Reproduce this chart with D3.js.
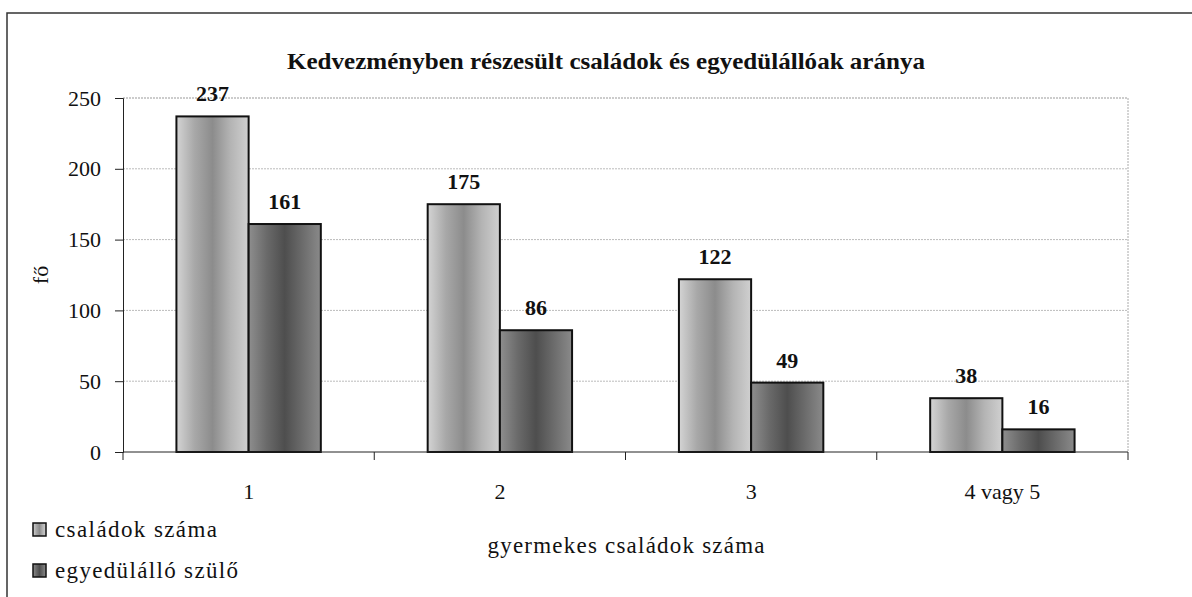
<!DOCTYPE html>
<html>
<head>
<meta charset="utf-8">
<script src="https://cdn.jsdelivr.net/npm/d3@7"></script>
<style>
  body { margin: 0; background: #fff; }
  svg { display: block; font-family: "Liberation Serif", "Times New Roman", serif; }
</style>
</head>
<body>
<svg id="chart" width="1192" height="597"></svg>
<script>
const categories = ['1', '2', '3', '4 vagy 5']
const seriesNames = ['családok száma', 'egyedülálló szülő']
const csaladok = [237, 175, 122, 38]
const egyedulallo = [161, 86, 49, 16]
const yTicks = [0, 50, 100, 150, 200, 250]

const svg = d3.select('#chart')
const width = 1192
const height = 597
const m = { left: 123, right: 1128, top: 98, bottom: 452 }

// gradients for the bars
const defs = svg.append('defs')
const grads = [
    { id: 'g0', stops: ['#d4d4d4', '#a8a8a8', '#8c8c8c', '#b4b4b4', '#d0d0d0'] },
    { id: 'g1', stops: ['#8e8e8e', '#6a6a6a', '#4e4e4e', '#6c6c6c', '#8a8a8a'] }
]
grads.forEach(g => {
    const lg = defs.append('linearGradient').attr('id', g.id)
        .attr('x1', '0%').attr('x2', '100%').attr('y1', '0%').attr('y2', '0%')
    g.stops.forEach((c, i) => lg.append('stop')
        .attr('offset', (i / (g.stops.length - 1) * 100) + '%')
        .attr('stop-color', c))
})

// outer frame
svg.append('path')
    .attr('d', `M7,${height} L7,13 L${width},13`)
    .attr('fill', 'none').attr('stroke', '#333').attr('stroke-width', 1.5)

const x0 = d3.scaleBand().domain(categories).range([m.left, m.right]).paddingInner(0).paddingOuter(0)
const x1 = d3.scaleBand().domain([0, 1]).range([0, x0.bandwidth()]).paddingOuter(0.74).paddingInner(0)
const y = d3.scaleLinear().domain([0, 250]).range([m.bottom, m.top])

// gridlines
svg.append('g').selectAll('line').data(yTicks.filter(d => d > 0)).enter().append('line')
    .attr('x1', m.left).attr('x2', m.right)
    .attr('y1', d => y(d)).attr('y2', d => y(d))
    .attr('stroke', d => d === 250 ? '#999' : '#bbb')
    .attr('stroke-width', 1)
    .attr('stroke-dasharray', '2,1')

// right border of plot area
svg.append('line')
    .attr('x1', m.right).attr('x2', m.right).attr('y1', m.top).attr('y2', m.bottom)
    .attr('stroke', '#aaa').attr('stroke-dasharray', '2,1')

// bars
const data = categories.map((c, i) => ({ cat: c, vals: [csaladok[i], egyedulallo[i]] }))
const groups = svg.append('g').selectAll('g').data(data).enter().append('g')
    .attr('transform', d => `translate(${x0(d.cat)},0)`)

groups.selectAll('rect').data(d => d.vals.map((v, k) => ({ v, k }))).enter().append('rect')
    .attr('x', d => x1(d.k))
    .attr('y', d => y(d.v))
    .attr('width', x1.bandwidth())
    .attr('height', d => y(0) - y(d.v))
    .attr('fill', d => `url(#g${d.k})`)
    .attr('stroke', '#111')
    .attr('stroke-width', 2)

groups.selectAll('text').data(d => d.vals.map((v, k) => ({ v, k }))).enter().append('text')
    .attr('x', d => x1(d.k) + x1.bandwidth() / 2)
    .attr('y', d => y(d.v) - 15)
    .attr('text-anchor', 'middle')
    .attr('font-weight', 'bold')
    .attr('font-size', 22)
    .attr('fill', '#111')
    .text(d => d.v)

// axes
const yAxis = d3.axisLeft(y).tickValues(yTicks).tickSize(8).tickPadding(14)
svg.append('g')
    .attr('transform', `translate(${m.left},0)`)
    .call(yAxis)
    .call(g => g.selectAll('text').attr('font-size', 22).attr('font-family', 'Liberation Serif').attr('fill', '#111'))
    .call(g => g.selectAll('line, path').attr('stroke', '#222'))

const xAxisG = svg.append('g').attr('transform', `translate(0,${m.bottom})`)
xAxisG.append('line').attr('x1', m.left).attr('x2', m.right).attr('stroke', '#222')
xAxisG.selectAll('.tk').data(categories.concat(['end'])).enter().append('line')
    .attr('x1', (d, i) => i < categories.length ? x0(d) : m.right)
    .attr('x2', (d, i) => i < categories.length ? x0(d) : m.right)
    .attr('y1', 0).attr('y2', 8).attr('stroke', '#222')
xAxisG.selectAll('text').data(categories).enter().append('text')
    .attr('x', d => x0(d) + x0.bandwidth() / 2)
    .attr('y', 47)
    .attr('text-anchor', 'middle')
    .attr('font-size', 22)
    .attr('fill', '#111')
    .text(d => d)

// title
svg.append('text')
    .attr('x', 606).attr('y', 69)
    .attr('text-anchor', 'middle')
    .attr('font-weight', 'bold')
    .attr('font-size', 23)
    .attr('textLength', 638)
    .attr('lengthAdjust', 'spacingAndGlyphs')
    .attr('fill', '#111')
    .text('Kedvezményben részesült családok és egyedülállóak aránya')

// axis titles
svg.append('text')
    .attr('transform', 'translate(48,275) rotate(-90)')
    .attr('text-anchor', 'middle')
    .attr('font-size', 22)
    .attr('fill', '#111')
    .text('fő')

svg.append('text')
    .attr('x', 626).attr('y', 553)
    .attr('text-anchor', 'middle')
    .attr('font-size', 23)
    .attr('textLength', 277)
    .attr('fill', '#111')
    .text('gyermekes családok száma')

// legend
const legLen = [162, 183]
const leg = svg.append('g').selectAll('g').data(seriesNames).enter().append('g')
    .attr('transform', (d, i) => `translate(33,${523 + i * 41})`)
leg.append('rect').attr('width', 13).attr('height', 13)
    .attr('fill', (d, i) => `url(#g${i})`).attr('stroke', '#111').attr('stroke-width', 1.5)
leg.append('text').attr('x', 22).attr('y', 14)
    .attr('font-size', 23).attr('fill', '#111')
    .attr('textLength', (d, i) => legLen[i])
    .text(d => d)
</script>
</body>
</html>
